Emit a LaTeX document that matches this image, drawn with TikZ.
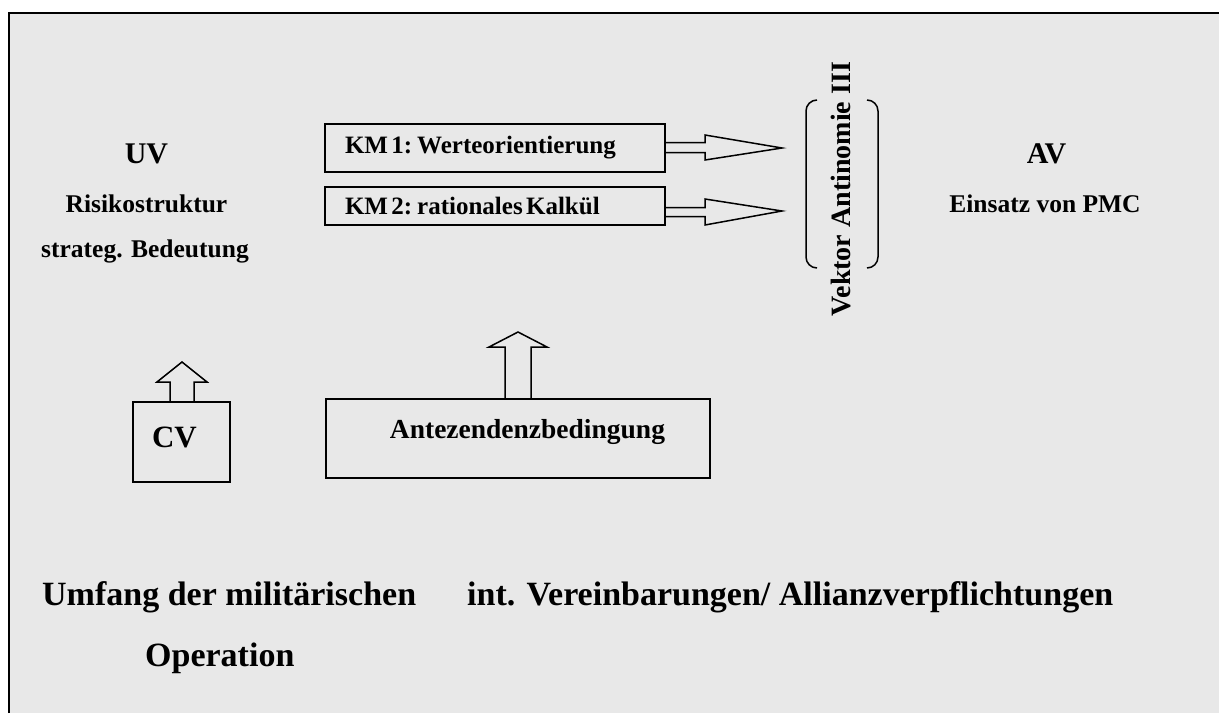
\documentclass[tikz,border=0pt]{standalone}
\usepackage{fontspec}
\setmainfont{Liberation Serif}
\newcommand{\fsz}[1]{\fontsize{#1pt}{#1pt}\selectfont\bfseries}
\definecolor{bgray}{HTML}{E8E8E8}
\begin{document}
\begin{tikzpicture}[x=1pt,y=1pt,
  boxst/.style={draw,line width=1.5pt,outer sep=0pt,inner sep=0pt},
  arrowst/.style={draw,line width=1.5pt,line join=miter},
  txt/.style={inner sep=0pt,anchor=base}]
\useasboundingbox (0,0) rectangle (1219,-713);
\fill[bgray] (9,-13) rectangle (1219,-713);
\draw[line width=2.6pt] (9,-713) -- (9,-13) -- (1219,-13);

% top texts
\node[txt] (uv) at (146.5,-163) {\fsz{30}UV};
\node[txt] (risk) at (146.5,-212) {\fsz{25.5}Risikostruktur};
\node[txt] (strat) at (145,-257) {\fsz{25.5}strateg. Bedeutung};
\node[txt] (av) at (1046.5,-163) {\fsz{30}AV};
\node[txt] (pmc) at (1045,-212) {\fsz{25.5}Einsatz von PMC};

% KM boxes
\node[boxst,minimum width=340pt,minimum height=48pt,text width=300pt,align=left] (k1) at (495,-148) {\fsz{25}KM 1: Werteorientierung};
\node[boxst,minimum width=340pt,minimum height=38pt,text width=300pt,align=left] (k2) at (495,-206) {\fsz{25}KM 2: rationales Kalk\"ul};

\coordinate (t1) at (782,-148);
\coordinate (t2) at (782,-211);
\draw[arrowst] ([yshift=5.5pt]k1.east) -- ++(40,0) -- ++(0,7.5) -- (t1) -- (705,-160) -- ++(0,7.5) -- ([yshift=-4.5pt]k1.east);
\draw[arrowst] ([yshift=-1.5pt]k2.east) -- ++(40,0) -- ++(0,8.5) -- (t2) -- (705,-225) -- ++(0,8.5) -- ([yshift=-10.5pt]k2.east);

% Vektor
\node[txt,rotate=90] (vek) at (850,-189) {\fsz{28}Vektor Antinomie III};
\draw[line width=1.5pt] (817,-100) to[out=180,in=90] (806,-111) -- (806,-257) to[out=-90,in=180] (817,-268);
\draw[line width=1.5pt] (867,-100) to[out=0,in=90] (878,-111) -- (878,-257) to[out=-90,in=0] (867,-268);

% CV
\node[boxst,minimum width=97pt,minimum height=80pt] (cv) at (181.5,-442) {};
\node[txt] (cvt) at (174.5,-447) {\fsz{31}CV};
\coordinate (tcv) at (182,-362);
\draw[arrowst] ([xshift=-11.5pt]cv.north) -- ++(0,20) -- ++(-13,0) -- (tcv) -- (207,-382) -- ++(-13,0) -- ([xshift=12.5pt]cv.north);

% Antezendenz
\node[boxst,minimum width=384pt,minimum height=79pt] (ant) at (518,-438.5) {};
\node[txt] (antt) at (527.5,-438) {\fsz{27.5}Antezendenzbedingung};
\coordinate (tant) at (518,-332);
\draw[arrowst] ([xshift=-13pt]ant.north) -- (505,-347) -- (489,-347) -- (tant) -- (547,-347) -- (531,-347) -- ([xshift=13pt]ant.north);

% bottom texts
\node[txt,anchor=base west] (umf) at (42,-605) {\fsz{34}Umfang der milit\"arischen};
\node[txt,anchor=base west] (intv) at (467,-605) {\fsz{34}int. Vereinbarungen/ Allianzverpflichtungen};
\node[txt,anchor=base west] (oper) at (145,-666) {\fsz{34}Operation};
\end{tikzpicture}
\end{document}
